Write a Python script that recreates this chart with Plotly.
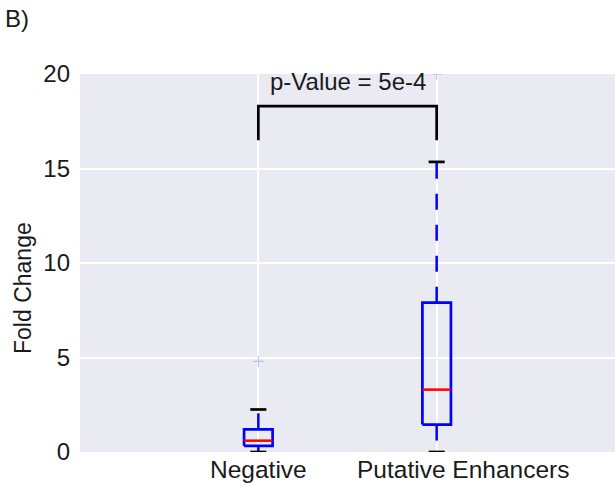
import plotly.graph_objects as go

# Box-plot summary statistics for each group
categories = ["Negative", "Putative Enhancers"]
positions = [1, 2]
label_shift_px = [0, 26]  # horizontal offset of each category label
lower_whisker = [0.0, 0.0]
q1 = [0.32, 1.45]
median = [0.6, 3.3]
q3 = [1.2, 7.9]
upper_whisker = [2.25, 15.35]
outliers = [[4.8], [20.0]]

# Significance bracket between the two groups
bracket_top = 18.3
bracket_bottom = 16.5
p_label = "p-Value = 5e-4"
label_y = 19.6

y_ticks = [0, 5, 10, 15, 20]

BOX_HALF = 0.08
CAP_HALF = 0.045
BLUE = "#0000ff"
FONT = "Arial, Liberation Sans, Helvetica, sans-serif"
TXT = "#1a1a1a"

fig = go.Figure()

for p, lw, a, m, b, uw, outs in zip(positions, lower_whisker, q1, median, q3,
                                     upper_whisker, outliers):
    # dashed whiskers
    for y0, y1 in ((b, uw), (a, lw)):
        fig.add_trace(go.Scatter(x=[p, p], y=[y0, y1], mode="lines",
                                 line=dict(color=BLUE, width=2.5, dash="16px,15px"),
                                 hoverinfo="skip", showlegend=False))
    # box outline
    fig.add_trace(go.Scatter(x=[p - BOX_HALF, p + BOX_HALF, p + BOX_HALF, p - BOX_HALF, p - BOX_HALF],
                             y=[a, a, b, b, a], mode="lines",
                             line=dict(color=BLUE, width=2.7),
                             hoverinfo="skip", showlegend=False))
    # median
    fig.add_trace(go.Scatter(x=[p - BOX_HALF, p + BOX_HALF], y=[m, m], mode="lines",
                             line=dict(color="#ff0000", width=2.5),
                             hoverinfo="skip", showlegend=False))
    # caps
    for yc in (uw, lw):
        fig.add_trace(go.Scatter(x=[p - CAP_HALF, p + CAP_HALF], y=[yc, yc], mode="lines",
                                 line=dict(color="black", width=2.7),
                                 hoverinfo="skip", showlegend=False))
    # fliers
    fig.add_trace(go.Scatter(x=[p] * len(outs), y=outs, mode="markers",
                             marker=dict(symbol="cross-thin", size=8,
                                         line=dict(color="#b4b8ee", width=1)),
                             cliponaxis=True, hoverinfo="skip", showlegend=False))

# significance bracket
fig.add_trace(go.Scatter(x=[positions[0], positions[0], positions[1], positions[1]],
                         y=[bracket_bottom, bracket_top, bracket_top, bracket_bottom],
                         mode="lines", line=dict(color="black", width=2.7),
                         hoverinfo="skip", showlegend=False))

fig.add_annotation(x=(positions[0] + positions[1]) / 2, y=label_y, xref="x", yref="y",
                   text=p_label, showarrow=False, xanchor="center", yanchor="middle",
                   font=dict(family=FONT, size=24, color=TXT))

# category labels under the axis
for p, name, dx in zip(positions, categories, label_shift_px):
    fig.add_annotation(x=p, y=-0.045, xref="x", yref="paper", text=name,
                       showarrow=False, xanchor="center", yanchor="middle", xshift=dx,
                       font=dict(family=FONT, size=24.5, color=TXT))

# y-axis title
fig.add_annotation(x=-0.1065, y=0.434, xref="paper", yref="paper", text="Fold Change",
                   textangle=-90, showarrow=False, xanchor="center", yanchor="middle",
                   font=dict(family=FONT, size=23, color=TXT))

fig.add_annotation(x=-0.143, y=1.187, xref="paper", yref="paper", text="B)",
                   showarrow=False, xanchor="left", yanchor="top",
                   font=dict(family=FONT, size=24, color=TXT))

fig.update_layout(
    width=615, height=485,
    margin=dict(l=80, r=0, t=74, b=33),
    paper_bgcolor="white",
    plot_bgcolor="#eaeaf2",
    font=dict(family=FONT, size=24, color=TXT),
    xaxis=dict(range=[0, 3], tickmode="array", tickvals=positions, showticklabels=False,
               showgrid=True, gridcolor="white", gridwidth=2, zeroline=False,
               showline=False, ticks=""),
    yaxis=dict(range=[0, 20], tickmode="array", tickvals=y_ticks,
               showgrid=True, gridcolor="white", gridwidth=2, zeroline=False,
               showline=False, ticks="", ticklabelstandoff=9,
               tickfont=dict(size=24)),
)

fig.write_html("out.html")
